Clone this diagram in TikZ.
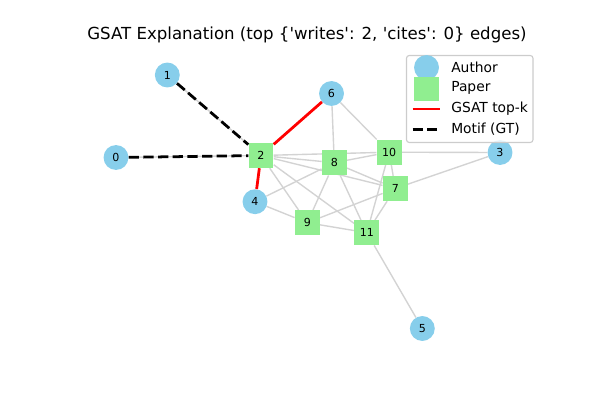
\documentclass[tikz,border=0pt]{standalone}
\usepackage{fontspec}
\setmainfont{DejaVu Sans}
\usetikzlibrary{backgrounds}

\definecolor{skyblue}{HTML}{87CEEB}
\definecolor{lightgreen}{HTML}{90EE90}
\definecolor{edgegray}{HTML}{D3D3D3}
\definecolor{framegray}{HTML}{CCCCCC}

\begin{document}
\begin{tikzpicture}[x=0.0254cm, y=-0.0254cm,
  author/.style={circle, fill=skyblue, minimum size=18pt, inner sep=0pt, font=\fontsize{8}{8}\selectfont},
  paper/.style={rectangle, fill=lightgreen, minimum size=18pt, inner sep=0pt, font=\fontsize{8}{8}\selectfont},
  edge/.style={draw=edgegray, line width=1pt},
  topk/.style={draw=red, line width=2pt},
  motif/.style={draw=black, line width=2pt, dash pattern=on 7.4pt off 3.2pt},
  legtext/.style={anchor=west, inner sep=0pt, font=\fontsize{10}{10}\selectfont}]

\useasboundingbox (0,0) rectangle (600,400);

% Title
\node (title) at (307,35) {\fontsize{12}{12}\selectfont GSAT Explanation (top \{\textquotesingle writes\textquotesingle: 2, \textquotesingle cites\textquotesingle: 0\} edges)};

% Authors
\node[author] (n0) at (116,157.5) {0};
\node[author] (n1) at (167.3,75) {1};
\node[author] (n3) at (500,152.5) {3};
\node[author] (n4) at (255,201.7) {4};
\node[author] (n5) at (422.3,328.5) {5};
\node[author] (n6) at (331.5,93.5) {6};

% Papers
\node[paper] (n2) at (261,155.5) {2};
\node[paper] (n7) at (395.3,188.5) {7};
\node[paper] (n8) at (334.3,162.7) {8};
\node[paper] (n9) at (307.3,222.7) {9};
\node[paper] (n10) at (389.2,152.2) {10};
\node[paper] (n11) at (366.8,232.7) {11};

% Draw the edges behind the nodes
\begin{pgfonlayer}{background}
\draw[edge] (n0) -- (n2);
\draw[edge] (n1) -- (n2);
\draw[edge] (n2) -- (n6);
\draw[edge] (n2) -- (n4);
\draw[edge] (n2) -- (n8);
\draw[edge] (n2) -- (n10);
\draw[edge] (n2) -- (n7);
\draw[edge] (n2) -- (n9);
\draw[edge] (n2) -- (n11);
\draw[edge] (n6) -- (n8);
\draw[edge] (n6) -- (n10);
\draw[edge] (n8) -- (n10);
\draw[edge] (n8) -- (n7);
\draw[edge] (n8) -- (n9);
\draw[edge] (n8) -- (n11);
\draw[edge] (n4) -- (n8);
\draw[edge] (n4) -- (n9);
\draw[edge] (n9) -- (n11);
\draw[edge] (n9) -- (n7);
\draw[edge] (n10) -- (n7);
\draw[edge] (n10) -- (n11);
\draw[edge] (n7) -- (n11);
\draw[edge] (n10) -- (n3);
\draw[edge] (n7) -- (n3);
\draw[edge] (n11) -- (n5);

% GSAT top-k and motif edges on top
\draw[topk] (n2) -- (n6);
\draw[topk] (n2) -- (n4);
\draw[motif] (n0) -- (n2);
\draw[motif] (n1) -- (n2);
\end{pgfonlayer}

% Legend
\draw[framegray, fill=white, fill opacity=0.8, rounded corners=2pt, line width=0.8pt] (406.5,55.5) rectangle (533,142.5);
\node[author] (lauthor) at (426.5,67.5) {};
\node[paper] (lpaper) at (426.5,89) {};
\coordinate (ltopa) at (412.5,109);
\coordinate (ltopb) at (440,109);
\coordinate (lmota) at (412.5,129.5);
\coordinate (lmotb) at (440,129.5);
\draw[topk] (ltopa) -- (ltopb);
\draw[motif] (lmota) -- (lmotb);
\node[legtext] (tauthor) at (451,67.5) {Author};
\node[legtext] (tpaper) at (451,88) {Paper};
\node[legtext] (ttopk) at (451,108.5) {GSAT top-k};
\node[legtext] (tmotif) at (451,129) {Motif (GT)};

\end{tikzpicture}
\end{document}
